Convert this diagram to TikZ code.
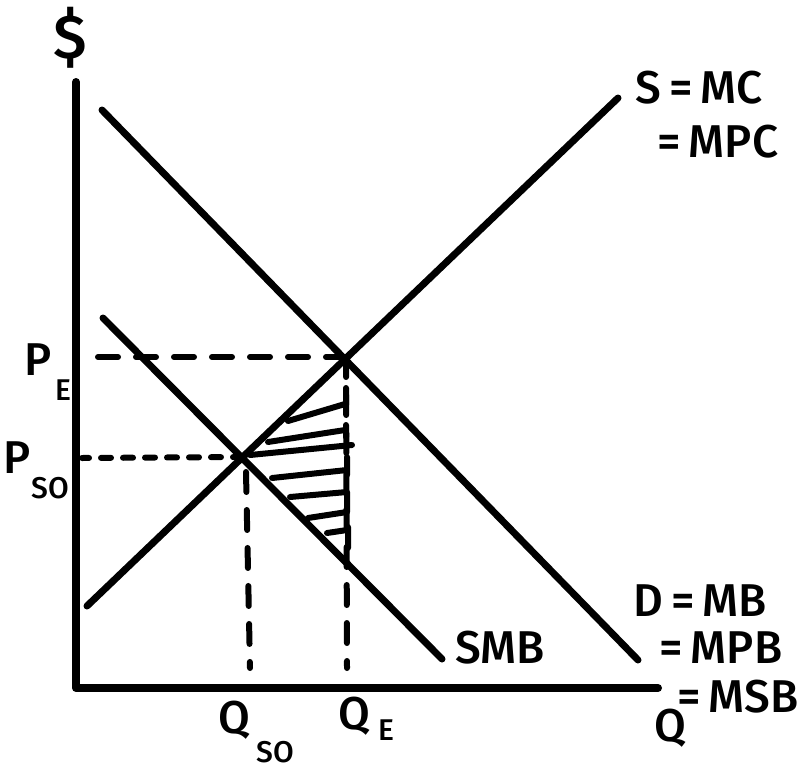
\documentclass[tikz,border=0pt]{standalone}
\usepackage{fontspec}
\setmainfont{Fira Sans}[UprightFont=* Medium]
\begin{document}
\begin{tikzpicture}[x=1pt,y=-1pt,
  curve/.style={line width=7pt,line cap=round},
  axis/.style={line width=8pt,line cap=round,line join=round},
  dashline/.style={line width=6pt,line cap=round,dash pattern=on 20pt off 18pt},
  dashshort/.style={line width=6pt,line cap=round,dash pattern=on 10pt off 12pt},
  hatch/.style={line width=6pt,line cap=round,line join=round},
  lbl/.style={inner sep=0pt,font=\fontsize{46}{46}\selectfont},
  sub/.style={inner sep=0pt,font=\fontsize{30}{30}\selectfont}]
\useasboundingbox (0,0) rectangle (802,776);
% axes
\coordinate (ytop) at (76,82);
\coordinate (orig) at (76,688);
\coordinate (xend) at (658,688);
\draw[axis] (ytop) -- (orig) -- (xend);
% curves
\coordinate (s1) at (87,606);
\coordinate (s2) at (618,98);
\coordinate (d1) at (102,110);
\coordinate (d2) at (638,660);
\coordinate (m1) at (103,318);
\coordinate (m2) at (442,659);
\coordinate (E) at (346,357);
\coordinate (SO) at (243,457);
\draw[curve] (s1) -- (s2);
\draw[curve] (d1) -- (d2);
\draw[curve] (m1) -- (m2);
% dashed lines
\coordinate (pe) at (82,357);
\coordinate (pso) at (82,458);
\coordinate (qe) at (347,668);
\coordinate (qso) at (250,668);
\draw[dashline] (E) -- (pe);
\draw[dashline] (E) -- (qe);
\draw[dashshort] (SO) -- (pso);
\draw[dashline] (246,472) -- (qso);
% hatching
\draw[hatch] (288,421) -- (345,404) (346,388) -- (346,405);
\draw[hatch] (268,442) -- (345,430) (346,425) -- (346,437);
\draw[hatch] (250,455) -- (352,445);
\draw[hatch] (272,478) -- (347,470) (347,457) -- (347,475);
\draw[hatch] (290,497) -- (347,492) -- (347,512) -- (308,518);
\draw[hatch] (327,533) -- (347,530) (348,527) -- (348,548);
% labels
\node[lbl,font=\fontsize{62}{62}\selectfont] (dollar) at (70,38) {\$};
\node[lbl] (smc) at (699,88) {S\,=\,MC};
\node[lbl] (mpc) at (718,142) {=\,MPC};
\node[lbl] (dmb) at (700,601) {D\,=\,MB};
\node[lbl] (mpb) at (721,648) {=\,MPB};
\node[lbl] (msb) at (738,697) {=\,MSB};
\node[lbl] (smb) at (500,648) {SMB};
\node[lbl] (q) at (670,728) {Q};
\node[lbl] (pel) at (38,360) {P};
\node[sub] (pes) at (63,390) {E};
\node[lbl] (psol) at (17,458) {P};
\node[sub] (psos) at (50,488) {SO};
\node[lbl] (qsol) at (234,720) {Q};
\node[sub] (qsos) at (275,752) {SO};
\node[lbl] (qel) at (354,716) {Q};
\node[sub] (qes) at (386,730) {E};
\end{tikzpicture}
\end{document}
